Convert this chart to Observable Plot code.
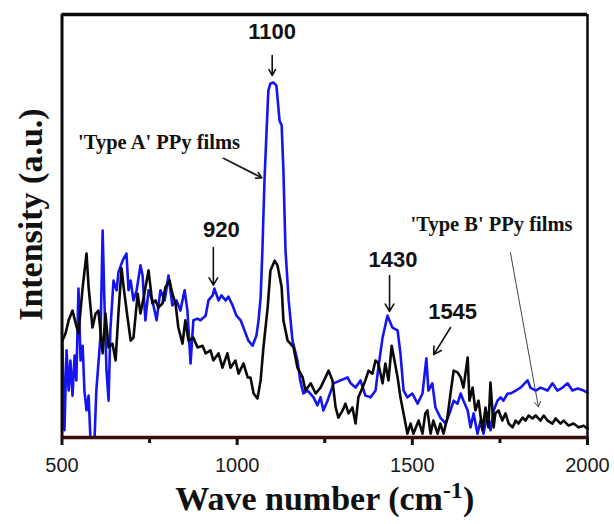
<!DOCTYPE html>
<html>
<head>
<meta charset="utf-8">
<script src="https://cdn.jsdelivr.net/npm/d3@7"></script>
<script src="https://cdn.jsdelivr.net/npm/@observablehq/plot@0.6"></script>
<style>
  html, body { margin: 0; padding: 0; background: #fff; }
</style>
</head>
<body>
<div id="chart"></div>
<script>
// Wave numbers (cm^-1) and intensity (a.u., 0-100)
const typeA = [
  [501,22.9],[507,1.7],[513,20.6],[519,11.1],[524,18.2],[530,9.9],[536,19.4],[541,13.5],
  [547,35.2],[553,18.2],[559,21.7],[564,11.1],[570,6.4],[576,9.9],[581,0],[593,0],
  [598,11.1],[610,24.1],[616,48.9],[621,32.4],[627,15.8],[633,8.7],[638,25.3],[647,37.1],
  [656,34.8],[661,39.0],[673,41.8],[684,43.5],[690,34.8],[696,37.1],[704,32.4],[713,34.8],
  [724,40.7],[730,38.3],[738,27.7],[747,34.8],[758,32.4],[770,27.7],[781,34.8],[793,32.4],
  [804,38.3],[815,31.2],[827,32.4],[838,30.0],[850,34.8],[858,30.0],[867,17.5],[875,27.7],
  [887,28.1],[895,27.7],[910,28.8],[918,32.4],[930,33.6],[935,35.2],[947,32.4],[955,33.6],
  [967,32.4],[975,33.3],[987,31.2],[998,28.8],[1010,27.7],[1021,25.3],[1032,22.9],[1044,21.7],
  [1055,24.1],[1061,27.7],[1067,33.1],[1072,44.2],[1078,60.8],[1084,72.6],[1089,82.0],[1095,83.7],
  [1104,83.9],[1112,83.2],[1121,74.9],[1127,73.8],[1132,63.1],[1138,44.2],[1147,32.4],[1158,22.9],
  [1172,18.2],[1180,13.5],[1189,10.4],[1201,11.1],[1218,9.5],[1229,7.6],[1238,9.5],[1246,6.4],
  [1258,8.7],[1275,12.8],[1295,13.5],[1315,14.2],[1324,12.8],[1338,11.8],[1352,13.5],[1366,9.9],
  [1381,9.5],[1395,11.1],[1403,16.5],[1415,23.6],[1429,28.8],[1443,26.0],[1458,25.3],[1466,19.9],
  [1475,11.1],[1486,9.5],[1500,10.4],[1515,8.0],[1529,10.4],[1540,18.7],[1546,11.1],[1557,12.8],
  [1566,7.1],[1580,4.7],[1595,3.3],[1609,6.4],[1618,8.7],[1629,8.0],[1638,10.4],[1646,8.7],
  [1658,6.4],[1666,2.4],[1675,5.7],[1686,0.9],[1695,4.0],[1703,0.9],[1715,5.7],[1723,1.7],
  [1732,6.4],[1743,8.7],[1752,9.5],[1760,8.7],[1772,10.4],[1780,10.4],[1795,11.1],[1809,11.8],
  [1829,13.5],[1837,11.8],[1852,11.1],[1866,11.8],[1886,11.1],[1900,12.8],[1914,11.1],[1929,11.8],
  [1943,12.8],[1957,11.1],[1972,11.6],[1989,11.1],[2000,10.6]
];

const typeB = [
  [501,22.9],[510,24.6],[519,27.7],[530,30.0],[539,27.0],[547,24.6],[559,35.5],[570,43.5],
  [576,35.5],[587,26.0],[596,29.3],[604,30.0],[616,19.9],[624,29.3],[633,21.3],[644,22.2],
  [653,18.2],[661,29.3],[670,40.0],[676,35.5],[687,28.4],[696,22.9],[704,23.6],[716,34.0],
  [724,29.3],[733,33.1],[747,39.5],[758,31.7],[767,32.4],[775,30.7],[787,31.7],[795,35.5],
  [807,37.1],[815,34.0],[824,31.7],[832,26.0],[844,22.2],[852,27.7],[861,22.9],[875,23.6],
  [887,21.3],[901,21.7],[910,19.9],[924,20.6],[932,18.2],[947,19.9],[958,16.5],[972,19.9],
  [981,16.5],[995,18.2],[1004,15.1],[1018,17.5],[1030,14.2],[1038,14.2],[1047,10.4],[1058,9.2],
  [1067,13.5],[1075,21.3],[1087,30.7],[1095,39.5],[1107,41.8],[1115,40.7],[1127,35.5],[1132,27.7],
  [1144,22.9],[1152,22.2],[1161,21.3],[1172,16.5],[1187,14.2],[1195,11.1],[1210,12.8],[1224,10.4],
  [1238,11.8],[1252,14.2],[1261,15.8],[1272,13.5],[1281,7.1],[1289,4.7],[1301,6.4],[1309,8.0],
  [1318,5.7],[1329,7.1],[1338,3.3],[1346,9.5],[1358,11.8],[1366,13.5],[1375,15.8],[1386,15.1],
  [1395,18.2],[1403,17.5],[1415,12.8],[1423,17.5],[1432,13.5],[1441,21.7],[1449,18.2],[1458,14.2],
  [1466,9.5],[1475,5.7],[1486,0.9],[1495,3.3],[1503,0.9],[1518,4.0],[1529,0.9],[1537,5.7],
  [1543,6.4],[1552,0.9],[1560,4.0],[1572,0.9],[1580,3.3],[1589,0.9],[1600,4.7],[1609,10.4],
  [1618,15.8],[1629,15.4],[1638,14.2],[1646,11.8],[1658,18.9],[1663,8.7],[1672,11.8],[1680,6.4],
  [1689,8.7],[1700,1.7],[1709,7.1],[1717,2.4],[1723,13.0],[1732,2.4],[1737,5.7],[1746,6.4],
  [1757,4.0],[1766,5.7],[1775,3.3],[1786,2.4],[1795,4.0],[1803,3.3],[1815,4.7],[1823,4.0],
  [1832,5.2],[1843,4.5],[1852,5.2],[1866,4.0],[1875,5.2],[1886,4.0],[1900,3.3],[1909,4.5],
  [1923,3.3],[1932,4.0],[1946,2.8],[1960,3.3],[1975,2.4],[1989,2.8],[2000,2.1]
];

const majorTicks = [500, 1000, 1500, 2000];
const minorTicks = [750, 1250, 1750];

// Peak annotations: label, label position, arrow start/end
const peakLabels = [
  {text: "1100", x: 1100, y: 94.3},
  {text: "920",  x: 955,  y: 47.3},
  {text: "1430", x: 1445, y: 40.2},
  {text: "1545", x: 1615, y: 28.1}
];
const peakArrows = [
  {x1: 1100, y1: 90.3, x2: 1100, y2: 85.6},
  {x1: 932,  y1: 44.9, x2: 932,  y2: 36.0},
  {x1: 1435, y1: 38.3, x2: 1435, y2: 29.8},
  {x1: 1609, y1: 26.0, x2: 1561, y2: 19.6}
];
const filmLabels = [
  {text: "'Type A' PPy films", x: 777,  y: 68.3},
  {text: "'Type B' PPy films", x: 1726, y: 48.9}
];
const filmArrows = [
  {x1: 961,  y1: 66.0, x2: 1070, y2: 61.4, w: 1.8, c: "#222"},
  {x1: 1780, y1: 43.7, x2: 1860, y2: 7.2,  w: 1.0, c: "#444"}
];

const xLabel = "Wave number (cm-1)";
const yLabel = "Intensity (a.u.)";

const chart = Plot.plot({
  width: 614,
  height: 524,
  marginLeft: 61.5,
  marginRight: 27,
  marginTop: 14,
  marginBottom: 87,
  style: {background: "white", fontFamily: "Liberation Sans, Arial, sans-serif", overflow: "visible"},
  x: {domain: [500, 2000]},
  y: {domain: [0, 100], axis: null},
  marks: [
    Plot.axisX({ticks: minorTicks, tickSize: 6, strokeWidth: 3, tickFormat: () => "", label: null, stroke: "#111"}),
    Plot.axisX({ticks: majorTicks, tickSize: 8, tickPadding: 12, strokeWidth: 3, fontSize: 20,
                tickFormat: d => String(d), label: null, stroke: "#111", fill: "#1a1a1a"}),
    Plot.line(typeA, {x: d => d[0], y: d => d[1], stroke: "#1515f0", strokeWidth: 2.6, strokeLinejoin: "round"}),
    Plot.line(typeB, {x: d => d[0], y: d => d[1], stroke: "#0a0a0a", strokeWidth: 2.6, strokeLinejoin: "round"}),
    Plot.ruleY([100], {stroke: "#0a0a0a", strokeWidth: 3.5}),
    Plot.ruleX([500], {stroke: "#0a0a0a", strokeWidth: 3}),
    Plot.ruleX([2000], {stroke: "#0a0a0a", strokeWidth: 2.5}),
    Plot.ruleY([0], {stroke: "#3a0c0c", strokeWidth: 3.5}),
    Plot.arrow(peakArrows, {x1: "x1", y1: "y1", x2: "x2", y2: "y2", stroke: "#111", strokeWidth: 1.6, headLength: 8}),
    Plot.arrow(filmArrows, {x1: "x1", y1: "y1", x2: "x2", y2: "y2", stroke: "c", strokeWidth: "w", headLength: 9}),
    Plot.text(peakLabels, {x: "x", y: "y", text: "text", fontSize: 22, fontWeight: "bold",
                           fontFamily: "Liberation Sans, Arial, sans-serif", fill: "#111", lineAnchor: "bottom"}),
    Plot.text(filmLabels, {x: "x", y: "y", text: "text", fontSize: 20.5, fontWeight: "bold",
                           fontFamily: "Liberation Serif, Times New Roman, serif", fill: "#111", lineAnchor: "bottom"}),
    Plot.text([xLabel], {frameAnchor: "bottom", dy: 62, text: d => d, fontSize: 34, fontWeight: "bold",
                         fontFamily: "Liberation Serif, Times New Roman, serif", fill: "#111", lineAnchor: "middle"}),
    Plot.text([yLabel], {frameAnchor: "left", y: 52.7, dx: -31, rotate: -90, text: d => d, fontSize: 34,
                         fontWeight: "bold", fontFamily: "Liberation Serif, Times New Roman, serif",
                         fill: "#111", lineAnchor: "middle", textAnchor: "middle"})
  ]
});

document.getElementById("chart").appendChild(chart);

// Render the "-1" of the x label as a superscript
chart.querySelectorAll("text").forEach(t => {
  if (t.textContent === xLabel) {
    t.textContent = "";
    const ns = "http://www.w3.org/2000/svg";
    const a = document.createElementNS(ns, "tspan");
    a.textContent = "Wave number (cm";
    const b = document.createElementNS(ns, "tspan");
    b.textContent = "-1";
    b.setAttribute("dy", "-12");
    b.setAttribute("font-size", "24");
    const c = document.createElementNS(ns, "tspan");
    c.textContent = ")";
    c.setAttribute("dy", "12");
    t.append(a, b, c);
  }
});
</script>
</body>
</html>
